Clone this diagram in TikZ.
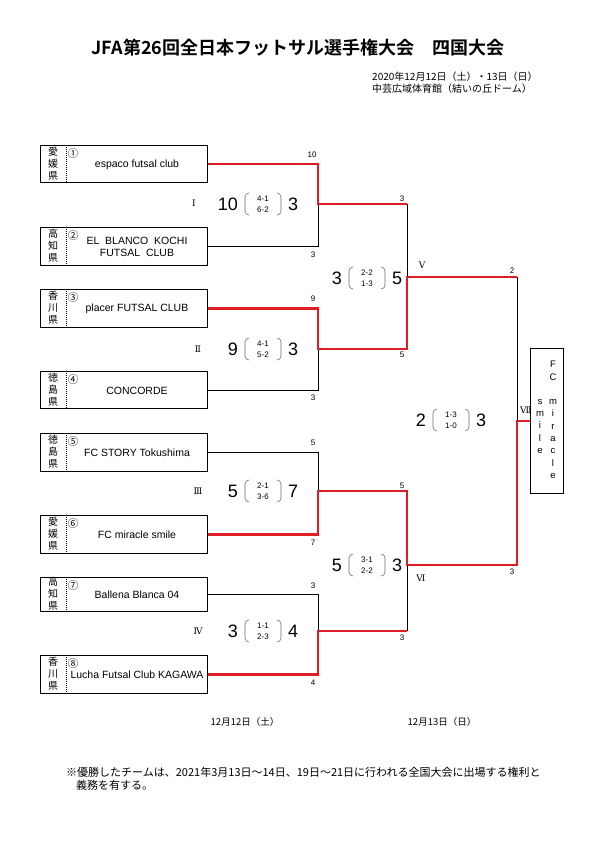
\documentclass[tikz,border=0pt]{standalone}
\usepackage{fontspec}
\setmainfont{Liberation Sans}
\newfontfamily\jp{Noto Sans CJK JP}
\newfontfamily\jpbold{Noto Sans CJK JP Bold}
\newfontfamily\romanf{DejaVu Serif}
\definecolor{winred}{RGB}{222,30,36}
\definecolor{pargray}{RGB}{110,110,110}
\tikzset{
  lose/.style={draw=black, line width=0.8pt},
  win/.style={draw=winred, line width=2.4pt},
  teambox/.style={draw, line width=0.9pt, anchor=north west, minimum width=167pt, inner sep=0pt},
  sepline/.style={line width=0.6pt, dash pattern=on 1pt off 1pt},
  pref/.style={font=\jp\fontsize{10}{12}\selectfont, align=center, inner sep=0pt},
  circ/.style={font=\jp\fontsize{10.5}{11}\selectfont, inner sep=0pt},
  tname/.style={font=\fontsize{10.5}{12.5}\selectfont, align=center, inner sep=0pt},
  small/.style={font=\fontsize{8}{9}\selectfont, inner sep=0pt},
  bignum/.style={font=\fontsize{18}{20}\selectfont, inner sep=0pt},
  subnum/.style={font=\fontsize{8}{8}\selectfont, inner sep=0pt},
  roman/.style={font=\romanf\fontsize{9}{10}\selectfont, inner sep=0pt},
  paren/.style={draw=pargray, line width=0.6pt, rounded corners=4pt},
  jptext/.style={font=\jp\fontsize{9.5}{11}\selectfont, inner sep=0pt},
  headtext/.style={font=\jp\fontsize{10}{11}\selectfont, inner sep=0pt},
  notetext/.style={font=\jp\fontsize{11}{12}\selectfont, inner sep=0pt},
}
\newcommand{\team}[6]{%
  \node[teambox, minimum height={#3-#2}] (#1) at (40,#2) {};
  \draw[sepline] (66,#2) -- (66,#3);
  \node[pref] (#1p) at (53,{(#2+#3)/2}) {#4};
  \node[circ] (#1c) at (73,{#2+9}) {#5};
  \node[tname] (#1n) at (137,{(#2+#3)/2+1}) {#6};
}
\newcommand{\scoreblock}[7]{%
  \node[bignum, anchor=east] (#1l) at ({#2-25},#3) {#4};
  \node[subnum] (#1t) at (#2,{#3-5.5}) {#5};
  \node[subnum] (#1b) at (#2,{#3+5.5}) {#6};
  \node[bignum, anchor=west] (#1r) at ({#2+25},#3) {#7};
  \draw[paren] ({#2-14},{#3-11}) -- ({#2-18},{#3-11}) -- ({#2-18},{#3+11}) -- ({#2-14},{#3+11});
  \draw[paren] ({#2+14},{#3-11}) -- ({#2+18},{#3-11}) -- ({#2+18},{#3+11}) -- ({#2+14},{#3+11});
}
\begin{document}
\begin{tikzpicture}[x=1pt,y=-1pt]
\fill[white] (0,0) rectangle (595,841);
\useasboundingbox (0,0) rectangle (595,841);

% title and header
\node[font=\jpbold\fontsize{18}{20}\selectfont, inner sep=0pt] (title) at (298,48) {JFA第26回全日本フットサル選手権大会\hspace{1em}四国大会};
\node[headtext, anchor=west] (date) at (372,77) {2020年12月12日（土）・13日（日）};
\node[headtext, anchor=west] (venue) at (372,89) {中芸広域体育館（結いの丘ドーム）};

% teams
\team{t1}{145}{182}{愛\\媛\\県}{①}{espaco futsal club}
\team{t2}{227}{265}{高\\知\\県}{②}{EL\ \ BLANCO\ \ KOCHI\\FUTSAL\ \ CLUB}
\team{t3}{289}{327}{香\\川\\県}{③}{placer FUTSAL CLUB}
\team{t4}{371}{408}{徳\\島\\県}{④}{CONCORDE}
\team{t5}{433}{471}{徳\\島\\県}{⑤}{FC STORY Tokushima}
\team{t6}{515}{553}{愛\\媛\\県}{⑥}{FC miracle smile}
\team{t7}{577}{611}{高\\知\\県}{⑦}{Ballena Blanca 04}
\team{t8}{655}{693}{香\\川\\県}{⑧}{Lucha Futsal Club KAGAWA}

% champion box
\node[draw, line width=0.9pt, anchor=north west, minimum width=33pt, minimum height=145pt, inner sep=0pt] (champ) at (530,348) {};

% junctions
\coordinate (m1) at (318,204);
\coordinate (m2) at (318,349);
\coordinate (m3) at (318,491);
\coordinate (m4) at (318,631);
\coordinate (a1) at (407,204);
\coordinate (a2) at (407,349);
\coordinate (a3) at (407,491);
\coordinate (a4) at (407,631);
\coordinate (s1) at (407,277);
\coordinate (s2) at (407,565);
\coordinate (b1) at (517,277);
\coordinate (b2) at (517,565);
\coordinate (f) at (517,421);

% losing lines
\draw[lose] (t2.east) -| (m1);
\draw[lose] (t4.east) -| (m2);
\draw[lose] (t5.east) -| (m3);
\draw[lose] (t7.east) -| (m4);
\draw[lose] (a1) -- (s1);
\draw[lose] (a4) -- (s2);
\draw[lose] (b1) -- (f);

% winning lines
\draw[win] (t1.east) -| (m1) -- (a1);
\draw[win] (t3.east) -| (m2) -- (a2) -- (s1) -- (b1);
\draw[win] (t6.east) -| (m3) -- (a3) -- (s2) -- (b2) -- (f) -- (f -| champ.west);
\draw[win] (t8.east) -| (m4) -- (a4);

% corner goal labels
\node[small] (g1a) at (312,155) {10};
\node[small] (g1b) at (313,255) {3};
\node[small] (g2a) at (313,299) {9};
\node[small] (g2b) at (313,398) {3};
\node[small] (g3a) at (313,443) {5};
\node[small] (g3b) at (313,543) {7};
\node[small] (g4a) at (313,586) {3};
\node[small] (g4b) at (313,683) {4};
\node[small] (g5a) at (402,199) {3};
\node[small] (g5b) at (402,355) {5};
\node[small] (g6a) at (402,486) {5};
\node[small] (g6b) at (402,638) {3};
\node[small] (g7a) at (512,271) {2};
\node[small] (g7b) at (512,572) {3};

% match numbers
\node[roman] (r1) at (194,203) {Ⅰ};
\node[roman] (r2) at (198,349) {Ⅱ};
\node[roman] (r3) at (198,491) {Ⅲ};
\node[roman] (r4) at (198,631) {Ⅳ};
\node[roman] (r5) at (422,265) {Ⅴ};
\node[roman] (r6) at (421,578) {Ⅵ};
\node[roman] (r7) at (526,410) {Ⅶ};

% scores
\scoreblock{sc1}{263}{204}{10}{4-1}{6-2}{3}
\scoreblock{sc2}{263}{349}{9}{4-1}{5-2}{3}
\scoreblock{sc3}{263}{491}{5}{2-1}{3-6}{7}
\scoreblock{sc4}{263}{631}{3}{1-1}{2-3}{4}
\scoreblock{sc5}{367}{278}{3}{2-2}{1-3}{5}
\scoreblock{sc6}{367}{565}{5}{3-1}{2-2}{3}
\scoreblock{sc7}{451}{420}{2}{1-3}{1-0}{3}

% champion text (vertical)
\node[font=\fontsize{9.5}{12.3}\selectfont, align=center, inner sep=0pt, anchor=north] (cr) at (553,361) {F\\C\\[12.3pt]m\\i\\r\\a\\c\\l\\e};
\node[font=\fontsize{9.5}{12.3}\selectfont, align=center, inner sep=0pt, anchor=north] (cl) at (540,399) {s\\m\\i\\l\\e};

% day labels
\node[jptext] (day1) at (245,722) {12月12日（土）};
\node[jptext] (day2) at (442,722) {12月13日（日）};

% footnote
\node[notetext, anchor=west] (note1) at (66,772) {※優勝したチームは、2021年3月13日～14日、19日～21日に行われる全国大会に出場する権利と};
\node[notetext, anchor=west] (note2) at (76,785) {義務を有する。};
\end{tikzpicture}
\end{document}
